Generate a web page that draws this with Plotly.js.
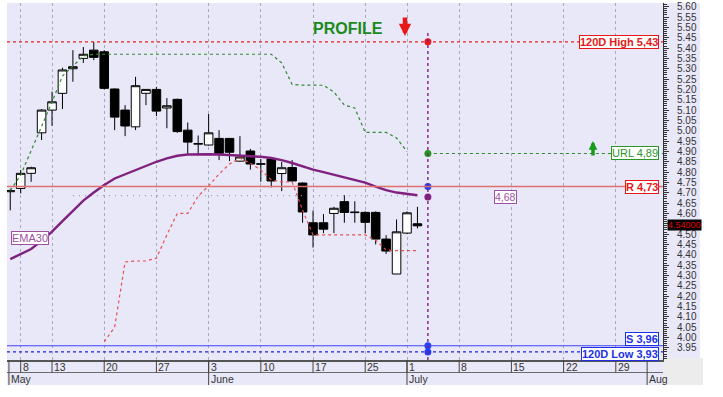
<!DOCTYPE html>
<html><head><meta charset="utf-8">
<script src="https://cdn.plot.ly/plotly-3.0.1.min.js"></script>
<style>html,body{margin:0;padding:0;background:#fff;}#chart{width:723px;height:397px;}</style>
</head><body><div id="chart"></div>
<script>
// ---- data ----
const dates = ['2019-05-07','2019-05-08','2019-05-09','2019-05-10','2019-05-13','2019-05-14','2019-05-15','2019-05-16','2019-05-17','2019-05-20','2019-05-21','2019-05-22','2019-05-23','2019-05-24','2019-05-27','2019-05-28','2019-05-29','2019-05-30','2019-05-31','2019-06-03','2019-06-04','2019-06-05','2019-06-06','2019-06-07','2019-06-10','2019-06-11','2019-06-12','2019-06-13','2019-06-14','2019-06-17','2019-06-18','2019-06-19','2019-06-20','2019-06-21','2019-06-25','2019-06-26','2019-06-27','2019-06-28','2019-07-01','2019-07-02'];
const openP  = [4.705,4.721,4.794,4.990,5.100,5.181,5.300,5.350,5.390,5.382,5.202,5.100,5.019,5.181,5.200,5.110,5.152,5.003,4.935,4.931,4.963,4.963,4.853,4.902,4.838,4.863,4.793,4.822,4.747,4.555,4.555,4.600,4.657,4.604,4.605,4.605,4.476,4.307,4.505,4.550];
const highP  = [4.720,4.810,4.826,5.105,5.189,5.305,5.390,5.405,5.430,5.390,5.205,5.124,5.261,5.200,5.212,5.158,5.155,5.040,4.977,5.081,5.003,4.965,4.974,4.912,4.863,4.865,4.849,4.858,4.750,4.614,4.597,4.632,4.688,4.659,4.610,4.610,4.495,4.571,4.610,4.632];
const lowP   = [4.615,4.697,4.753,4.955,5.024,5.105,5.237,5.328,5.342,5.200,5.003,4.974,5.003,5.124,5.071,5.012,4.990,4.883,4.883,4.928,4.858,4.853,4.850,4.812,4.753,4.726,4.708,4.755,4.555,4.435,4.505,4.505,4.555,4.555,4.505,4.450,4.404,4.307,4.500,4.528];
const closeP = [4.710,4.794,4.821,5.100,5.140,5.294,5.310,5.370,5.355,5.205,5.066,5.023,5.218,5.200,5.095,5.121,4.996,4.945,4.938,4.990,4.891,4.896,4.873,4.839,4.840,4.757,4.821,4.757,4.607,4.496,4.524,4.625,4.605,4.606,4.557,4.476,4.418,4.511,4.603,4.540];
const ema30  = [4.379,4.404,4.428,4.467,4.512,4.563,4.614,4.662,4.701,4.738,4.769,4.789,4.810,4.827,4.850,4.866,4.879,4.885,4.887,4.886,4.885,4.883,4.880,4.878,4.874,4.868,4.858,4.844,4.827,4.812,4.800,4.788,4.776,4.764,4.749,4.730,4.713,4.701,4.694,4.688];
const upperTrail = [4.71,4.786,4.904,5.018,5.139,5.265,5.313,5.361,5.37,5.37,5.37,5.37,5.37,5.37,5.37,5.37,5.37,5.37,5.37,5.37,5.37,5.37,5.37,5.37,5.37,5.37,5.328,5.224,5.221,5.221,5.220,5.187,5.124,5.110,4.992,4.992,4.992,4.965,4.899];
const lowerTrail = [null,null,null,null,null,null,null,null,null,3.979,4.05,4.365,4.370,4.370,4.384,4.496,4.60,4.60,4.684,4.733,4.791,4.839,4.867,4.843,4.810,4.762,4.753,4.752,4.616,4.496,4.496,4.496,4.496,4.496,4.496,4.471,4.423,4.420,4.420,4.420];
const midDotsLevel = 4.686;
const midDotsFrom = '2019-05-15', midDotsTo = '2019-07-02';

const profileDate = '2019-07-03';
const high120 = 5.43, urlLevel = 4.89, rLevel = 4.73, emaLast = 4.68, sLevel = 3.96, low120 = 3.93;
const lastPrice = 4.54;

const priceTickMin = 3.95, priceTickMax = 5.60, priceTickStep = 0.05;
const hiddenTick = 4.55;   // covered by the last-price tag in the reference
const weekTicks = ['2019-05-08','2019-05-13','2019-05-20','2019-05-27','2019-06-03','2019-06-10','2019-06-17','2019-06-25','2019-07-01','2019-07-08','2019-07-15','2019-07-22','2019-07-29'];
const weekLabels = ['8','13','20','27','3','10','17','25','1','8','15','22','29'];
const monthTicks = ['2019-05-06 21:00','2019-06-03','2019-07-01','2019-08-01'];
const monthLabels = ['May','June','July','Aug'];

// ---- layout helpers ----
const L = 7, R = 663, T = 3, B = 360;
const W = R - L, H = B - T;
const px = v => (v - L) / W;     // pixel x -> paper
const py = v => (B - v) / H;     // pixel y -> paper
const FONT = 'Liberation Sans, Arial, sans-serif';

const yTickVals = [], yTickText = [];
for (let k = 0; priceTickMin + k * priceTickStep <= priceTickMax + 1e-9; k++) {
  const v = +(priceTickMin + k * priceTickStep).toFixed(2);
  yTickVals.push(v);
  yTickText.push(Math.abs(v - hiddenTick) < 1e-6 ? '' : v.toFixed(2));
}

const traces = [];
traces.push({type:'scatter', mode:'lines', x:[midDotsFrom, midDotsTo], y:[midDotsLevel, midDotsLevel],
  line:{color:'#9a9ab0', width:1.3, dash:'1px,5px'}, hoverinfo:'skip'});
traces.push({type:'scatter', mode:'lines', x:dates, y:upperTrail,
  line:{color:'#2e8b2e', width:1.2, dash:'dot'}, hoverinfo:'skip'});
traces.push({type:'scatter', mode:'lines', x:dates, y:lowerTrail,
  line:{color:'#e85050', width:1.2, dash:'dot'}, hoverinfo:'skip'});
traces.push({type:'scatter', mode:'lines', x:dates, y:ema30,
  line:{color:'#80207f', width:2.4}, hoverinfo:'skip'});
traces.push({type:'candlestick', x:dates, open:openP, high:highP, low:lowP, close:closeP,
  increasing:{line:{color:'#000', width:1}, fillcolor:'#ffffff'},
  decreasing:{line:{color:'#000', width:1}, fillcolor:'#000000'},
  whiskerwidth:0, hoverinfo:'skip'});
traces.push({type:'scatter', mode:'markers', x:[profileDate,profileDate,profileDate,profileDate,profileDate,profileDate],
  y:[high120, urlLevel, rLevel, emaLast, sLevel, low120],
  marker:{size:7, color:['#e81818','#1f9a1f','#1f3fff','#80207f','#1f3fff','#1f3fff']}, hoverinfo:'skip'});

const xEnd = '2019-08-02 12:29';
const shapes = [];
shapes.push({type:'rect', xref:'paper', yref:'paper', x0:0, x1:px(700), y0:py(385), y1:1, fillcolor:'#e8e8f8', line:{width:0}, layer:'below'});
shapes.push({type:'rect', xref:'paper', yref:'paper', x0:px(663), x1:px(703), y0:py(385), y1:py(358), fillcolor:'#ececec', line:{width:0}, layer:'below'});
shapes.push({type:'line', xref:'paper', yref:'paper', x0:0, x1:1, y0:py(372.5), y1:py(372.5), line:{color:'#6a6a6a', width:1}});
weekTicks.forEach(d => shapes.push({type:'line', xref:'x', yref:'paper', x0:d, x1:d, y0:py(360), y1:py(372.5), line:{color:'#444', width:1}}));
monthTicks.forEach(d => shapes.push({type:'line', xref:'x', yref:'paper', x0:d, x1:d, y0:py(360), y1:py(385), line:{color:'#444', width:1}}));
shapes.push({type:'line', xref:'paper', yref:'y', x0:0, x1:1, y0:high120, y1:high120, line:{color:'#e82020', width:1.2, dash:'dot'}});
shapes.push({type:'line', xref:'paper', yref:'y', x0:0, x1:1, y0:rLevel, y1:rLevel, line:{color:'#e07070', width:1.6}});
shapes.push({type:'line', xref:'paper', yref:'y', x0:0, x1:1, y0:sLevel, y1:sLevel, line:{color:'#4040ff', width:1.2}});
shapes.push({type:'line', xref:'paper', yref:'y', x0:0, x1:1, y0:low120, y1:low120, line:{color:'#2020e0', width:1.2, dash:'dot'}});
shapes.push({type:'line', xref:'x', yref:'y', x0:profileDate, x1:xEnd, y0:urlLevel, y1:urlLevel, line:{color:'#2e8b2e', width:1.2, dash:'dot'}});
shapes.push({type:'line', xref:'x', yref:'paper', x0:profileDate, x1:profileDate, y0:0, y1:py(31), line:{color:'#80207f', width:1.4, dash:'dot'}});

const ann = [];
const boxAnn = (text, y, color, opts) => Object.assign({xref:'paper', yref:'y', x:px(659), y:y, xanchor:'right', yanchor:'middle',
  text:text, showarrow:false, bgcolor:'#ffffff', bordercolor:color, borderwidth:1, borderpad:0,
  font:{family:FONT, size:11, color:color}}, opts || {});
ann.push(boxAnn('<b>120D High 5,43</b>', high120, '#e81818'));
ann.push(boxAnn('<b>R 4,73</b>', rLevel, '#e81818'));
ann.push(boxAnn('URL 4,89', urlLevel, '#2a962a'));
ann.push(boxAnn('<b>S 3,96</b>', sLevel, '#2030e8', {yanchor:'bottom'}));
ann.push(boxAnn('<b>120D Low 3,93</b>', low120, '#2030e8', {yshift:-2}));
ann.push({xref:'paper', yref:'y', x:px(506), y:emaLast, xanchor:'center', yanchor:'middle', text:'4,68', showarrow:false,
  bgcolor:'#ffffff', bordercolor:'#a050a0', borderwidth:1, borderpad:0, font:{family:FONT, size:10.5, color:'#a050a0'}});
ann.push({xref:'paper', yref:'paper', x:px(30), y:py(238), xanchor:'center', yanchor:'middle', text:'EMA30', showarrow:false,
  bgcolor:'#ffffff', bordercolor:'#a050a0', borderwidth:1, borderpad:0, font:{family:FONT, size:11, color:'#a050a0'}});
ann.push({xref:'paper', yref:'y', x:px(667), y:lastPrice, xanchor:'left', yanchor:'middle', yshift:1, text:'4.54000', showarrow:false,
  bgcolor:'#000000', borderpad:0, font:{family:FONT, size:9, color:'#e00000'}});
ann.push({xref:'paper', yref:'paper', x:px(348), y:py(29), xanchor:'center', yanchor:'middle', text:'<b>PROFILE</b>', showarrow:false,
  font:{family:FONT, size:16, color:'#1a8a1a'}});
ann.push({xref:'paper', yref:'paper', x:px(405), y:py(36), ax:0, ay:-20, text:'', showarrow:true,
  arrowhead:2, arrowsize:0.55, arrowwidth:4.5, arrowcolor:'#e81818'});
ann.push({xref:'paper', yref:'paper', x:px(593), y:py(141), ax:0, ay:16, text:'', showarrow:true,
  arrowhead:2, arrowsize:0.5, arrowwidth:3.5, arrowcolor:'#1a9a1a'});
weekTicks.forEach((d,i) => ann.push({xref:'x', yref:'paper', x:d, y:py(366.5), xanchor:'left', yanchor:'middle',
  text:weekLabels[i], showarrow:false, font:{family:FONT, size:10.5, color:'#333'}}));
monthTicks.forEach((d,i) => ann.push({xref:'x', yref:'paper', x:d, y:py(379), xanchor:'left', yanchor:'middle',
  text:monthLabels[i], showarrow:false, font:{family:FONT, size:10.5, color:'#333'}}));

const layout = {
  width:723, height:397,
  margin:{l:L, r:723-R, t:T, b:397-B, pad:0},
  paper_bgcolor:'#ffffff', plot_bgcolor:'#e8e8f8',
  showlegend:false, boxgap:0.18, boxgroupgap:0,
  xaxis:{type:'date', range:['2019-05-06 16:31', xEnd],
    rangebreaks:[{bounds:['sat','mon']}, {values:['2019-06-24']}],
    rangeslider:{visible:false},
    tickmode:'array', tickvals:weekTicks, ticktext:weekLabels, showticklabels:false, ticks:'',
    showgrid:true, gridcolor:'#a8a8b8', griddash:'dot', gridwidth:1,
    showline:true, linecolor:'#555', linewidth:2, zeroline:false, fixedrange:true},
  yaxis:{side:'right', range:[3.891, 5.618], tickmode:'array', tickvals:yTickVals, ticktext:yTickText,
    showgrid:false, zeroline:false, showline:true, linecolor:'#333', linewidth:1,
    ticks:'outside', ticklen:5, tickcolor:'#333', ticklabelstandoff:6,
    minor:{dtick:0.01, tick0:0, ticks:'outside', ticklen:3, tickcolor:'#333'},
    tickfont:{family:FONT, size:10, color:'#333'}, fixedrange:true},
  shapes:shapes, annotations:ann
};
Plotly.newPlot('chart', traces, layout, {displayModeBar:false, staticPlot:true});
</script>
</body></html>
